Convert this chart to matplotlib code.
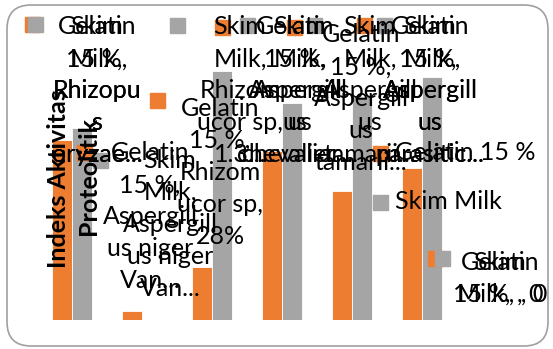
import numpy as np
import matplotlib
matplotlib.use("Agg")
import matplotlib.pyplot as plt
from matplotlib.patches import Rectangle, FancyBboxPatch
from matplotlib.transforms import IdentityTransform

# isolates and index values per substrate
categories = ["Rhizopus oryzae", "Aspergillus niger Van Tieghem", "Rhizomucor sp",
              "Aspergillus chevalieri", "Aspergillus tamarii", "Aspergillus parasiticus", ""]
gelatin = [0.95, 0.05, 0.28, 0.89, 0.68, 0.80, 0]
skim = [1.01, 0, 1.31, 1.14, 1.18, 1.28, 0]
series_names = ["Gelatin 15 %", "Skim Milk"]

# wrapped data label lines (series, category, value)
gel_labels = [["Gelatin", "15 %,", "Rhizopu", "s", "oryzae..."],
              ["Gelatin", "15 %,", "Aspergill", "us niger", "Van..."],
              ["Gelatin", "15 %,", "Rhizom", "ucor sp,", "28%"],
              ["Gelatin", "15 %,", "Aspergill", "us", "chevalier..."],
              ["Gelatin", "15 %,", "Aspergill", "us", "tamarii..."],
              ["Gelatin", "15 %,", "Aspergill", "us", "parasitic..."],
              ["Gelatin", "15 %, , 0"]]
skim_labels = [["Skim", "Milk,", "Rhizopu", "s", "oryzae..."],
               ["Skim", "Milk,", "Aspergill", "us niger", "Van..."],
               ["Skim", "Milk,", "Rhizom", "ucor sp,", "1.3..."],
               ["Skim", "Milk,", "Aspergill", "us", "chevalier..."],
               ["Skim", "Milk,", "Aspergill", "us", "tamarii..."],
               ["Skim", "Milk,", "Aspergill", "us", "parasitic..."],
               ["Skim", "Milk, , 0"]]

ORANGE = "#ED7D31"
GREY = "#A5A5A5"
W, H = 553, 349
FONT = "Lato"
FS = 18

fig = plt.figure(figsize=(W / 100, H / 100), dpi=100)

def fx(x):
    return x / W

def fy(y):
    return 1 - y / H

# plot area in pixels
ax = fig.add_axes([fx(37), fy(320), fx(490), 304 / H])
x = np.arange(len(categories))
bw = 20 / 70
ax.bar(x - bw / 2, gelatin, bw, color=ORANGE, edgecolor="white", linewidth=0.6)
ax.bar(x + bw / 2, skim, bw, color=GREY, edgecolor="white", linewidth=0.6)
ax.set_xlim(-0.5, len(categories) - 0.5)
ax.set_ylim(0, 1.6)
ax.axis("off")

# chart frame
frame = FancyBboxPatch((7, 3), 541, 341, boxstyle="round,pad=0,rounding_size=24",
                       transform=IdentityTransform(), facecolor="none",
                       edgecolor="#a0a0a0", linewidth=1.2)
fig.patches.append(frame)

def key(x0, y0, color):
    fig.patches.append(Rectangle((fx(x0), fy(y0 + 15)), 15 / W, 15 / H,
                                 transform=fig.transFigure, color=color, zorder=5))

def label(lines, kx, ky, cx, y0, color):
    key(kx, ky, color)
    for i, s in enumerate(lines):
        fig.text(fx(cx), fy(y0 + 32 * i), s, ha="center", va="center",
                 fontsize=FS, family=FONT, color="black", zorder=6)

# axis title, drawn over the first bars
fig.text(fx(58), fy(179), "Indeks Aktivitas", rotation=90, ha="center", va="center",
         fontsize=FS, family=FONT, fontweight="bold", zorder=6)
fig.text(fx(88), fy(176), "Proteolitik", rotation=90, ha="center", va="center",
         fontsize=FS, family=FONT, fontweight="bold", zorder=6)

gel_pos = [(25, 17, 97, 27), (77, 145, 150, 153), (150, 93, 220, 108),
           (215, 20, 295, 27), (287, 20, 361, 35), (357, 18, 430, 27),
           (428, 251, 500, 262)]
skim_pos = [(28, 17, 97, 27), (93, 153, 170, 160), (170, 18, 240, 27),
            (240, 18, 300, 27), (307, 18, 370, 27), (377, 18, 430, 27),
            (435, 251, 500, 262)]

for lines, (kx, ky, cx, y0) in zip(gel_labels, gel_pos):
    label(lines, kx, ky, cx, y0, ORANGE)
for lines, (kx, ky, cx, y0) in zip(skim_labels, skim_pos):
    label(lines, kx, ky, cx, y0, GREY)

# legend
for name, color, ly in zip(series_names, [ORANGE, GREY], [153, 202]):
    key(373, ly - 7, color)
    fig.text(fx(395), fy(ly), name, ha="left", va="center",
             fontsize=FS, family=FONT, color="black", zorder=6)

fig.savefig("out.png", dpi=100)
